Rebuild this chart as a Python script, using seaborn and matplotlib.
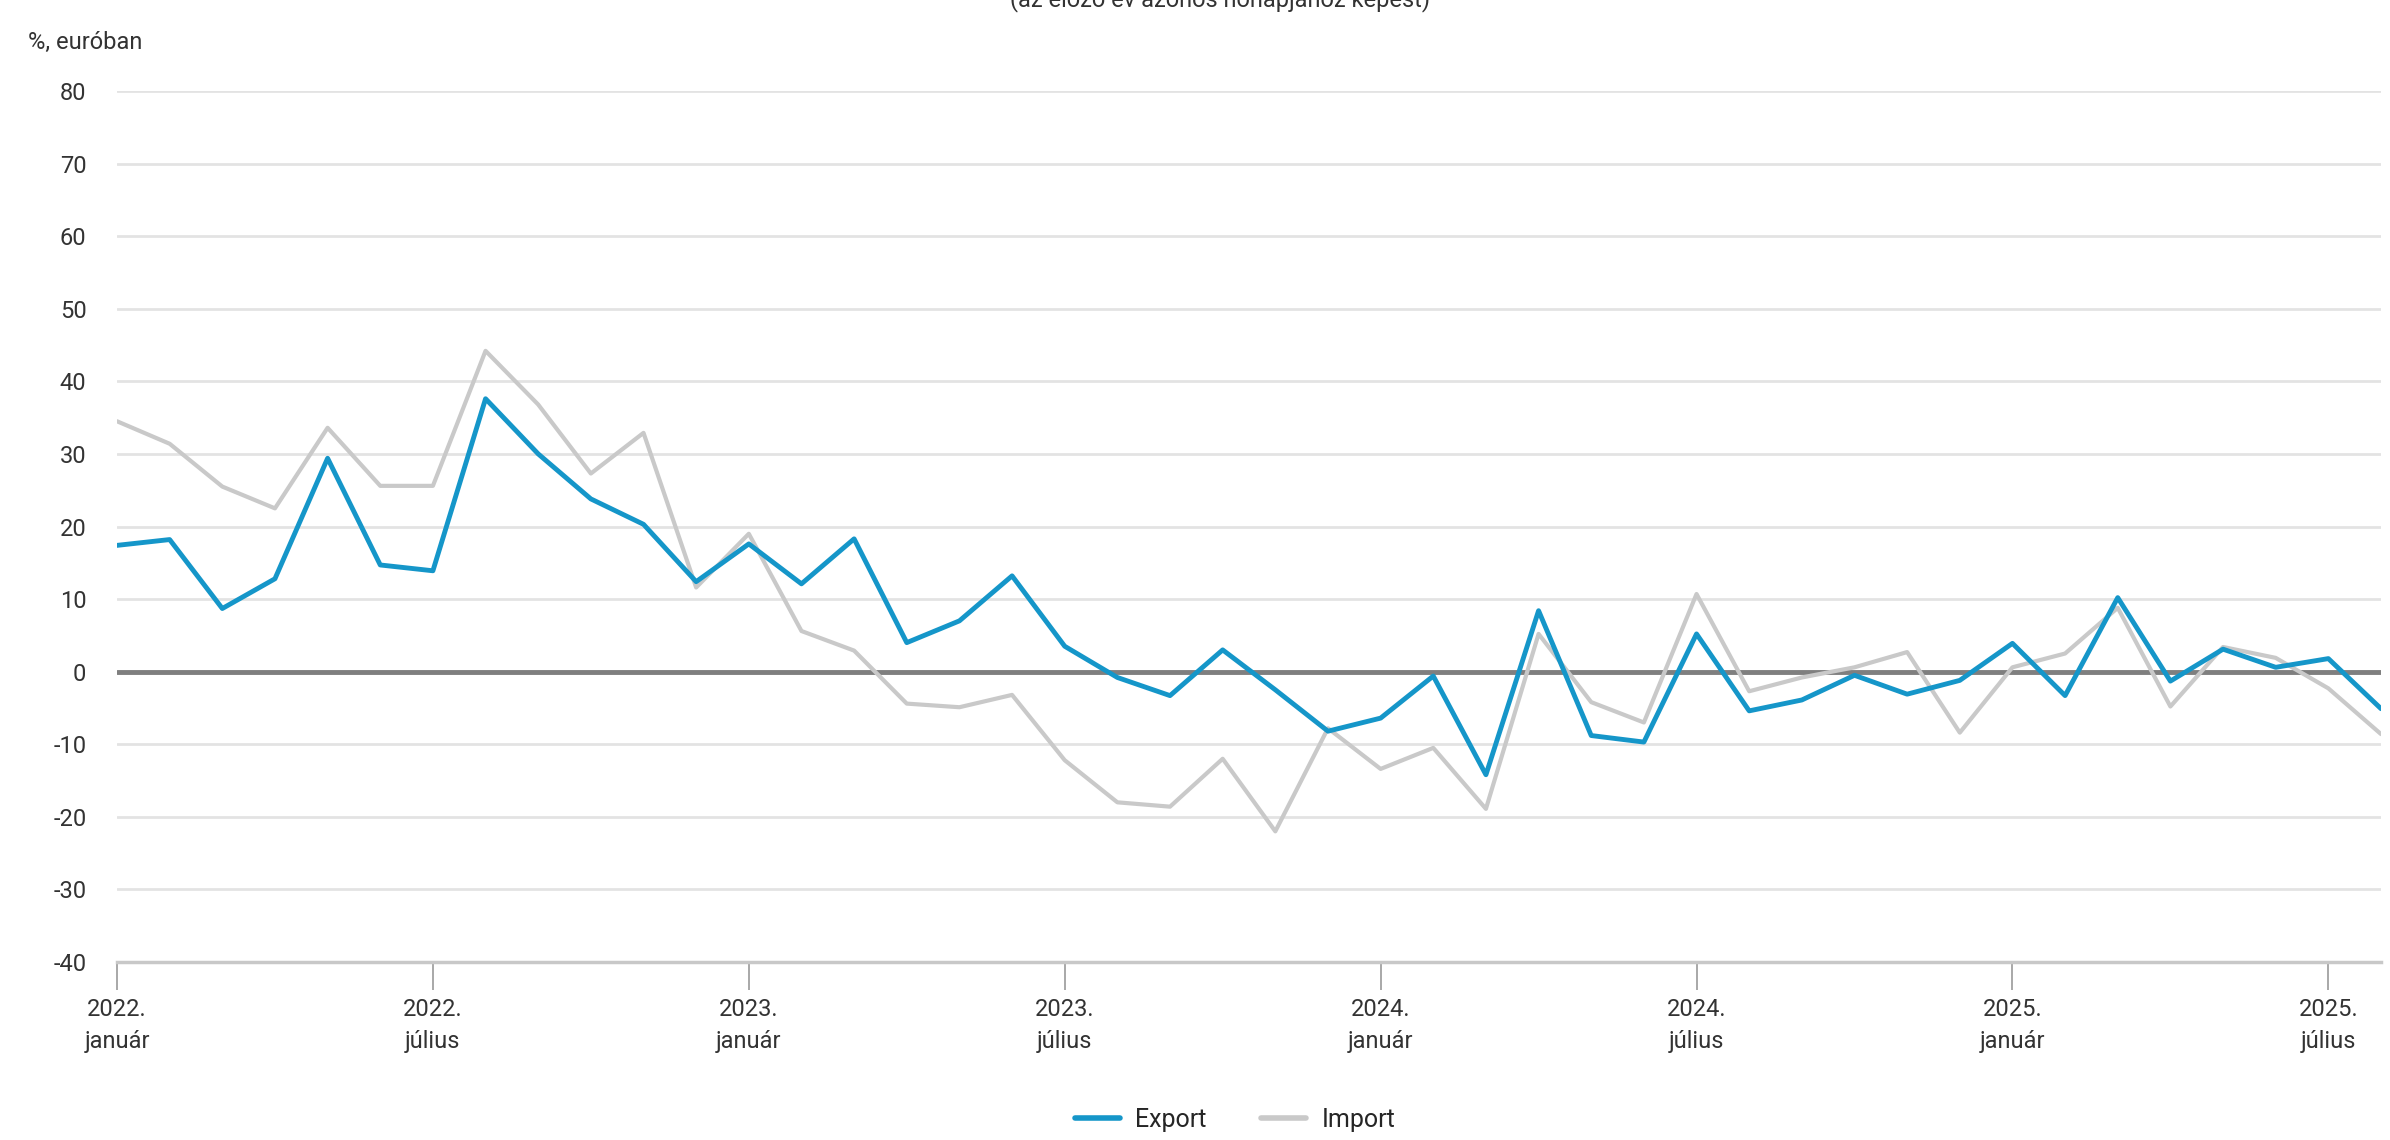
import matplotlib
matplotlib.use('Agg')
import matplotlib.pyplot as plt
import seaborn as sns
import pandas as pd

# monthly y/y change, %, 2022 Jan - 2025 Aug
months = list(range(44))
export = [17.4, 18.2, 8.7, 12.8, 29.4, 14.7, 13.9, 37.6, 30.0, 23.8, 20.3, 12.4,
          17.6, 12.1, 18.3, 4.0, 7.0, 13.2, 3.5, -0.8, -3.3, 3.0, -2.5, -8.2,
          -6.4, -0.6, -14.2, 8.4, -8.8, -9.7, 5.2, -5.4, -3.9, -0.5, -3.1, -1.2,
          3.9, -3.3, 10.2, -1.3, 3.1, 0.6, 1.8, -5.1]
imports = [34.5, 31.4, 25.5, 22.5, 33.6, 25.6, 25.6, 44.2, 36.8, 27.3, 32.9, 11.6,
           19.0, 5.6, 2.9, -4.4, -4.9, -3.2, -12.2, -18.0, -18.6, -12.0, -22.0, -7.8,
           -13.4, -10.5, -18.9, 5.2, -4.2, -7.0, 10.7, -2.7, -0.8, 0.6, 2.7, -8.4,
           0.6, 2.5, 8.8, -4.8, 3.4, 1.9, -2.3, -8.6]
tick_pos = [0, 6, 12, 18, 24, 30, 36, 42]
tick_labels = ['2022.\njanuár', '2022.\njúlius', '2023.\njanuár', '2023.\njúlius',
               '2024.\njanuár', '2024.\njúlius', '2025.\njanuár', '2025.\njúlius']

df = pd.DataFrame({
    'month': months * 2,
    'value': export + imports,
    'series': ['Export'] * len(export) + ['Import'] * len(imports),
})

sns.set_style('white')
plt.rcParams['font.family'] = ['Roboto', 'DejaVu Sans']
plt.rcParams['axes.unicode_minus'] = False

fig = plt.figure(figsize=(23.9, 11.4), dpi=100)
ax = fig.add_axes([117 / 2390, 1 - 962 / 1140, (2381 - 117) / 2390, (962 - 91) / 1140])

for y in range(-30, 90, 10):
    if y != 0:
        ax.axhline(y, color='#e3e3e3', lw=2, zorder=0)
ax.axhline(0, color='#7f7f7f', lw=3.5, zorder=1)

palette = {'Export': '#1596c9', 'Import': '#c9c9c9'}
sns.lineplot(data=df, x='month', y='value', hue='series', palette=palette,
             hue_order=['Import', 'Export'], ax=ax, linewidth=3.5, legend=False,
             zorder=3)
# import line a bit thinner
for line in ax.get_lines():
    if line.get_color() == '#c9c9c9':
        line.set_linewidth(3)

ax.set_xlim(0, 43)
ax.set_ylim(-40, 80)
ax.set_yticks(range(-40, 90, 10))
ax.set_xticks(tick_pos)
ax.set_xticklabels(tick_labels, fontsize=17, color='#333333', linespacing=1.5)
ax.tick_params(axis='y', labelsize=17, labelcolor='#333333', length=0, pad=22)
ax.tick_params(axis='x', bottom=True, direction='out', length=20, width=1.2,
               color='#999999', pad=6)
ax.set_xlabel('')
ax.set_ylabel('')
for side in ['top', 'right', 'left']:
    ax.spines[side].set_visible(False)
ax.spines['bottom'].set_color('#c8c8c8')
ax.spines['bottom'].set_linewidth(2.5)

fig.text(28 / 2390, 1 - 42 / 1140, '%, euróban', fontsize=17, color='#333333',
         va='center', ha='left')
fig.text(1220 / 2390, 1.0, '(az előző év azonos hónapjához képest)', fontsize=17,
         color='#333333', va='center', ha='center')

# legend
handles = [plt.Line2D([], [], color='#1596c9', lw=4),
           plt.Line2D([], [], color='#c9c9c9', lw=4)]
fig.legend(handles, ['Export', 'Import'], loc='center', ncol=2,
           bbox_to_anchor=(1235 / 2390, 1 - 1120 / 1140), frameon=False,
           fontsize=18, handlelength=1.8, columnspacing=2.2, handletextpad=0.6)

fig.savefig('out.png', dpi=100)
